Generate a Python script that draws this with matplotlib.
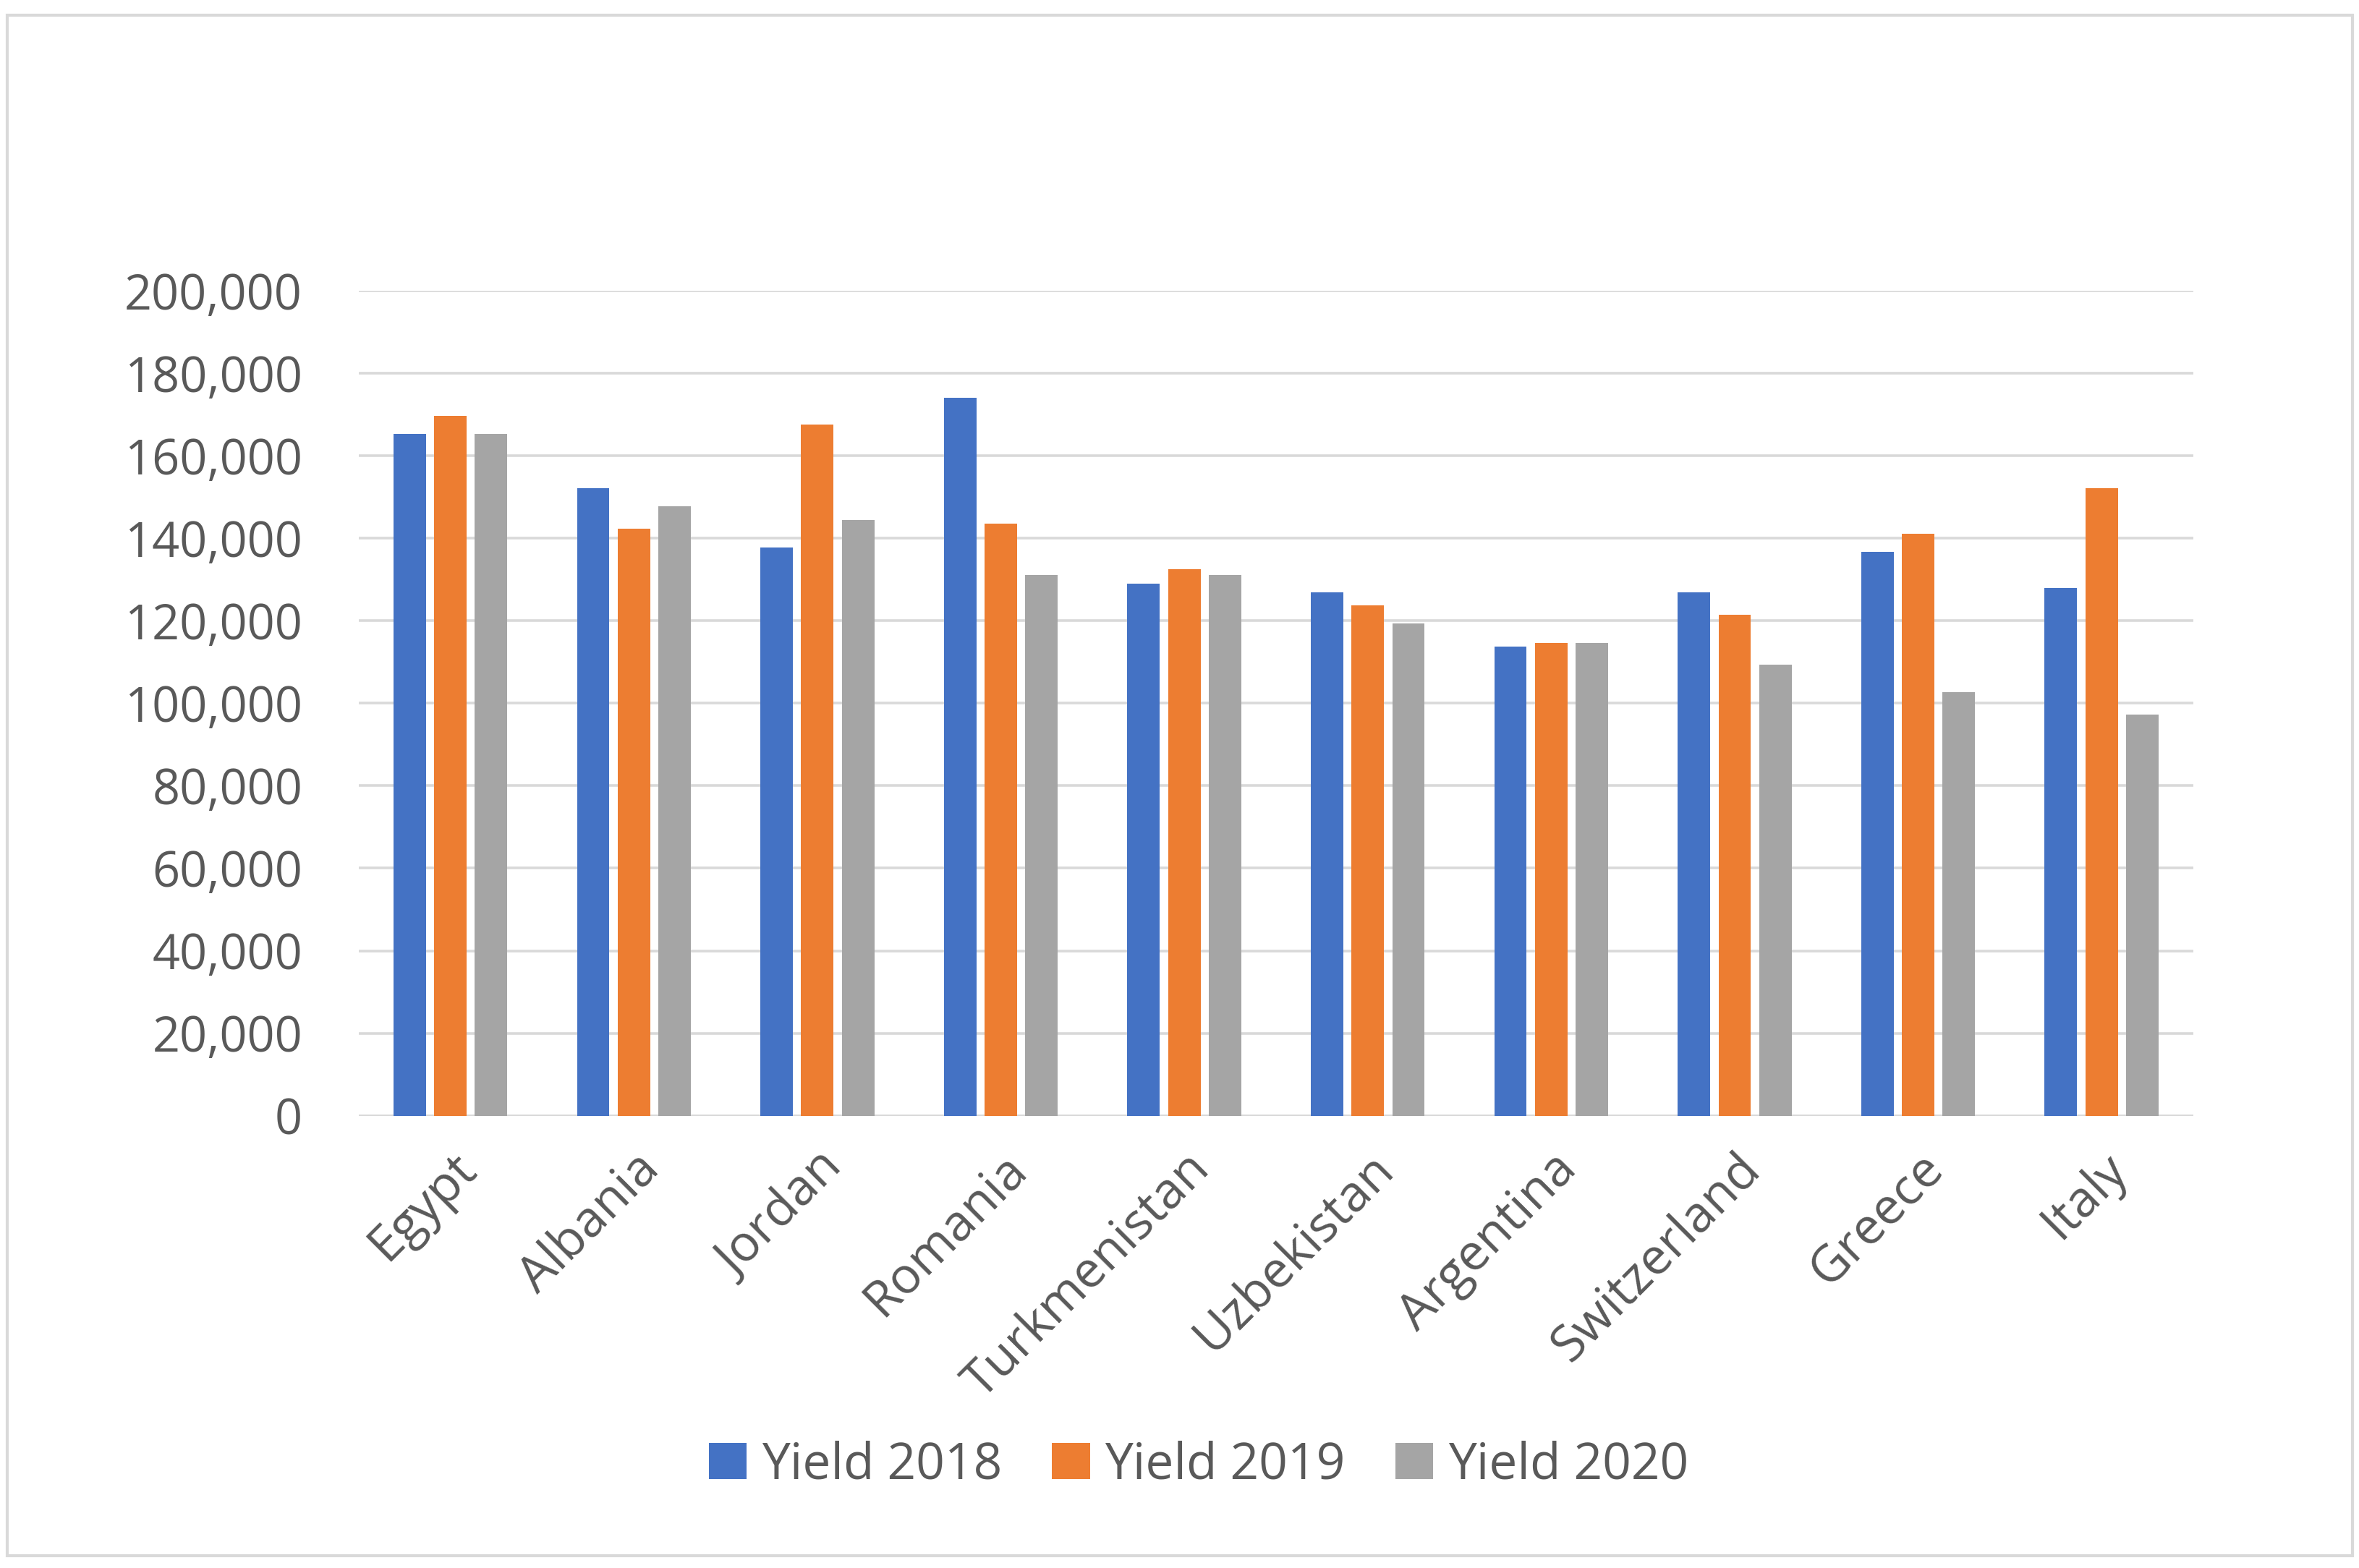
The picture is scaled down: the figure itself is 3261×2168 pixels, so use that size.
import numpy as np
import matplotlib.pyplot as plt
from matplotlib.patches import Rectangle

countries = ['Egypt', 'Albania', 'Jordan', 'Romania', 'Turkmenistan',
             'Uzbekistan', 'Argentina', 'Switzerland', 'Greece', 'Italy']
yield_2018 = [165300, 152200, 137800, 174100, 129100, 126900, 113700, 126900, 136800, 128000]
yield_2019 = [169700, 142300, 167600, 143600, 132500, 123700, 114700, 121400, 141200, 152200]
yield_2020 = [165300, 147800, 144500, 131200, 131200, 119300, 114700, 109400, 102700, 97200]
yticks = np.arange(0, 200001, 20000)

plt.rcParams['font.family'] = ['Open Sans', 'DejaVu Sans']
text_col = '#595959'
grid_col = '#d9d9d9'

fig = plt.figure(figsize=(16.31, 10.84), dpi=200)
ax = fig.add_axes([0.152, 0.2885, 0.7775, 0.5259])

x = np.arange(len(countries))
w = 0.177
step = 0.222
ax.bar(x - step, yield_2018, w, color='#4472C4', label='Yield 2018', zorder=3)
ax.bar(x, yield_2019, w, color='#ED7D31', label='Yield 2019', zorder=3)
ax.bar(x + step, yield_2020, w, color='#A5A5A5', label='Yield 2020', zorder=3)

ax.set_xlim(-0.5, len(countries) - 0.5)
ax.set_ylim(0, 200000)
ax.set_yticks(yticks)
ax.set_yticklabels([f'{v:,}' for v in yticks], fontsize=24, color=text_col)
ax.yaxis.grid(True, color=grid_col, linewidth=1.3, zorder=0)
ax.set_xticks(x)
ax.set_xticklabels(countries, rotation=45, ha='right', va='top',
                   rotation_mode='anchor', fontsize=25, color=text_col)
ax.tick_params(axis='both', length=0)
ax.tick_params(axis='y', pad=28)
ax.tick_params(axis='x', pad=14)
for s in ax.spines.values():
    s.set_visible(False)
ax.axhline(0, color=grid_col, linewidth=1.8, zorder=2)

leg = fig.legend(loc='center', bbox_to_anchor=(0.508, 0.0654), ncol=3,
                 frameon=False, fontsize=25, handlelength=0.75, handleheight=0.75,
                 handletextpad=0.3, columnspacing=1.0)
for t in leg.get_texts():
    t.set_color(text_col)

fig.patches.append(Rectangle((5 / 1560, 1 - 1032 / 1040), 1550 / 1560, 1022 / 1040,
                             transform=fig.transFigure, fill=False,
                             edgecolor=grid_col, linewidth=1.5))

fig.savefig('out.png', dpi=200, facecolor='white')
